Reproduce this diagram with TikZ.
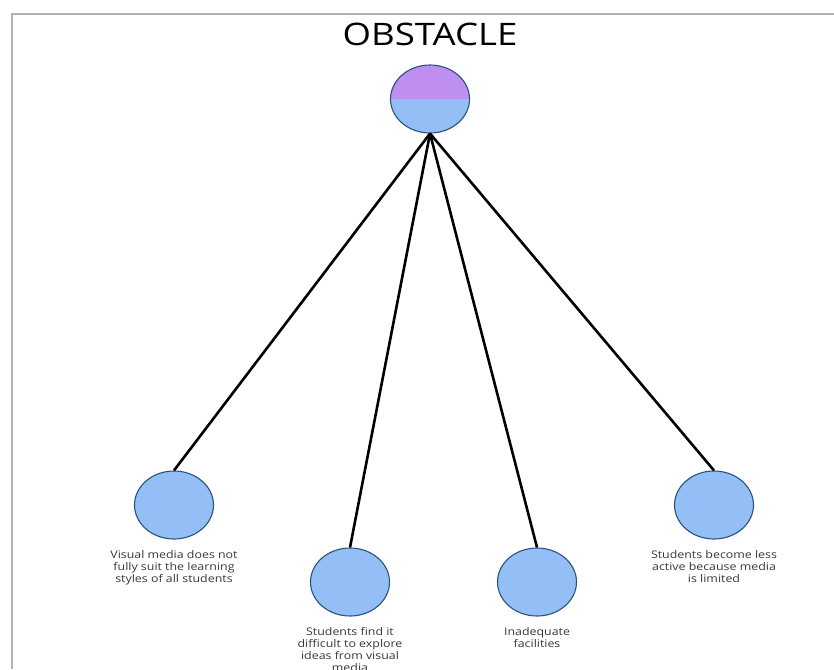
\documentclass[tikz,border=0pt]{standalone}
\usepackage{fontspec}
\setmainfont{Open Sans}
\newfontfamily\widesans[FakeStretch=1.18]{Open Sans}
\usetikzlibrary{positioning,shapes.geometric}
\definecolor{bubblefill}{RGB}{148,190,246}
\definecolor{bubbletop}{RGB}{190,142,240}
\definecolor{bubbleline}{RGB}{42,82,128}
\definecolor{frame}{RGB}{178,178,178}
\definecolor{ink}{RGB}{55,55,55}
\tikzset{
  bubble/.style={ellipse,draw=bubbleline,fill=bubblefill,line width=1.1pt,
    minimum width=79pt,minimum height=68pt,inner sep=0pt},
  root/.style={bubble,path picture={
    \fill[bubbletop] (path picture bounding box.north west) rectangle (path picture bounding box.east);}},
  spoke/.style={draw=black,line width=2.6pt},
  caption/.style={font=\widesans\fontsize{10.5}{12}\selectfont,text=ink,align=center,inner sep=0pt},
}
\begin{document}
\begin{tikzpicture}[x=1pt,y=-1pt]
    \useasboundingbox (0,0) rectangle (834,669);
    \draw[frame,line width=2pt] (12,669) -- (12,14) -- (834,14);
    \node[font=\widesans\fontsize{31}{34}\selectfont] (title) at (430,34) {OBSTACLE};
    % centre and the four obstacles
    \node[root] (obs) at (430,99) {};
    \node[bubble] (style) at (174,505) {};
    \node[bubble] (ideas) at (350,582) {};
    \node[bubble] (facil) at (537,582) {};
    \node[bubble] (active) at (714,505) {};
    \node[caption,below=11pt of style] (lstyle) {Visual media does not\\fully suit the learning\\styles of all students};
    \node[caption,below=11pt of ideas] (lideas) {Students find it\\difficult to explore\\ideas from visual\\media};
    \node[caption,below=11pt of facil] (lfacil) {Inadequate\\facilities};
    \node[caption,below=11pt of active] (lactive) {Students become less\\active because media\\is limited};
    \foreach \n in {style,ideas,facil,active}
      \draw[spoke] (obs.south) -- (\n.north);
  \end{tikzpicture}
\end{document}
